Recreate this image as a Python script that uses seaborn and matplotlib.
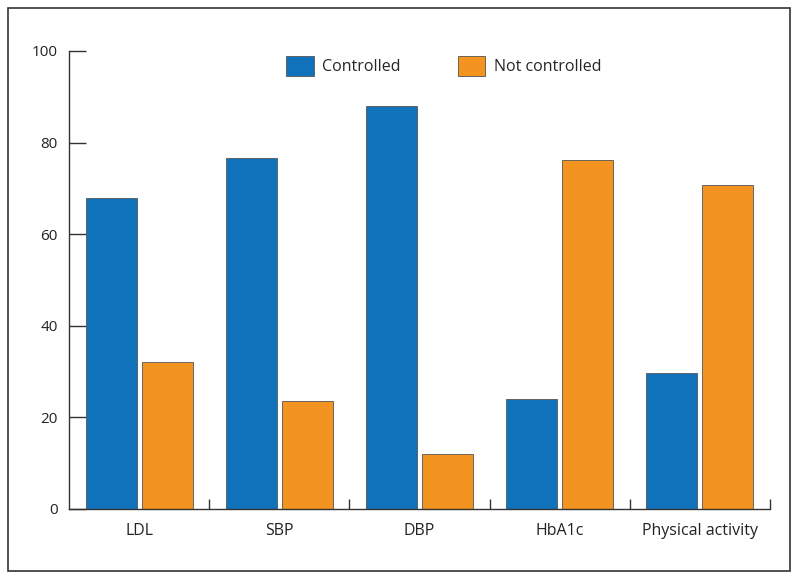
import pandas as pd
import seaborn as sns
import matplotlib.pyplot as plt
from matplotlib.patches import Rectangle, Patch
from matplotlib.ticker import FixedLocator

categories = ["LDL", "SBP", "DBP", "HbA1c", "Physical activity"]
controlled = [68, 76.6, 88, 24, 29.7]
not_controlled = [32, 23.6, 12, 76.2, 70.7]
groups = ["Controlled", "Not controlled"]
colors = ["#1172bc", "#f39320"]

df = pd.DataFrame({
    "category": categories * 2,
    "status": [groups[0]] * len(categories) + [groups[1]] * len(categories),
    "percent": controlled + not_controlled,
})

sns.set_style("white")
plt.rcParams["font.family"] = ["Open Sans", "DejaVu Sans"]

fig = plt.figure(figsize=(7.99, 5.80), dpi=100)
ax = fig.add_axes([69 / 799, 1 - 509 / 580, 701 / 799, 458 / 580])

sns.barplot(data=df, x="category", y="percent", hue="status", palette=colors,
            width=0.8, gap=0.09, edgecolor="#555555", linewidth=0.6,
            saturation=1, ax=ax, legend=False)

ax.set_xlim(-0.5, len(categories) - 0.5)
ax.set_ylim(0, 100)
ax.set_yticks([0, 20, 40, 60, 80, 100])
ax.set_xlabel("")
ax.set_ylabel("")
sns.despine(ax=ax)
for side in ["left", "bottom"]:
    ax.spines[side].set_color("#333333")
    ax.spines[side].set_linewidth(1.0)

ax.tick_params(axis="y", left=True, direction="in", length=12.5, width=1,
               color="#333333", labelsize=11, pad=8, labelcolor="#222222")
ax.tick_params(axis="x", which="major", bottom=True, length=0, labelsize=11.5,
               pad=10, labelcolor="#222222")
ax.xaxis.set_minor_locator(FixedLocator([i + 0.5 for i in range(len(categories))]))
ax.tick_params(axis="x", which="minor", bottom=True, direction="in", length=7,
               width=1, color="#333333")

handles = [Patch(facecolor=c, edgecolor="#555555", linewidth=0.6) for c in colors]
ax.legend(handles, groups, loc="upper center", bbox_to_anchor=(0.535, 1.02),
          ncol=2, frameon=False, fontsize=11.5, handlelength=1.7,
          handleheight=1.5, columnspacing=3.6, handletextpad=0.55)

# outer frame around the whole figure
fig.patches.append(Rectangle((8 / 799, 1 - 571 / 580), 782 / 799, 563 / 580,
                             transform=fig.transFigure, fill=False,
                             edgecolor="#333333", linewidth=1.2))

fig.savefig("out.png", dpi=100)
